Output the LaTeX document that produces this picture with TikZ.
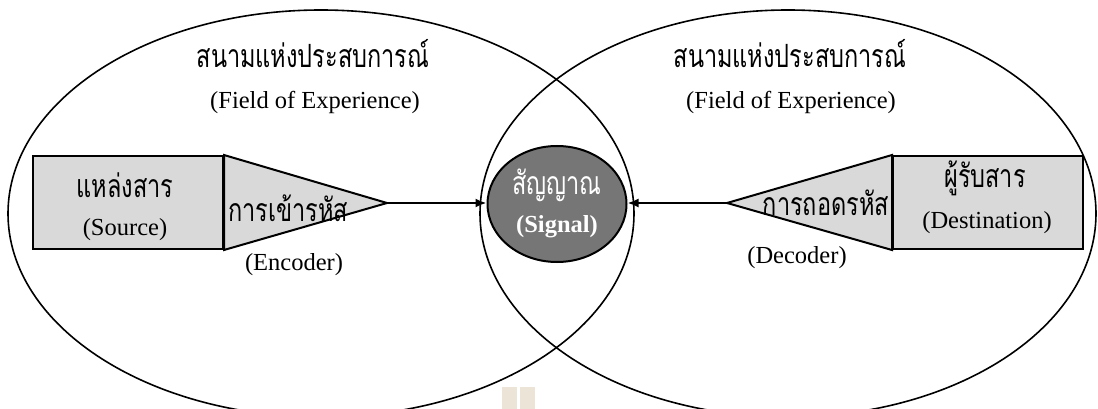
\documentclass[tikz,border=0pt]{standalone}
\usepackage{fontspec}
\setmainfont{Liberation Serif}
\newfontfamily\thaifont[Script=Thai,FakeStretch=0.735]{Loma}
\usetikzlibrary{arrows.meta,shapes.geometric}
\definecolor{boxgray}{HTML}{D9D9D9}
\definecolor{sigfill}{HTML}{767676}
\definecolor{markbeige}{HTML}{ECE4D6}

\begin{document}
\begin{tikzpicture}[x=1pt,y=-1pt,
  field/.style={draw=black,line width=1.6pt},
  box/.style={draw=black,line width=2pt,fill=boxgray,inner sep=0pt},
  th/.style={inner sep=0pt,font=\thaifont\fontsize{32}{34}\selectfont},
  en/.style={inner sep=0pt,font=\fontsize{24.5}{28}\selectfont},
  arr/.style={draw=black,line width=2pt,-{Latex[length=11pt,width=9pt]}},
  sigstyle/.style={ellipse,draw=black,line width=2pt,fill=sigfill,
    minimum width=139pt,minimum height=116pt,inner sep=0pt}]
\useasboundingbox (0,0) rectangle (1098,409);
\clip (0,0) rectangle (1098,409);

% fields of experience
\draw[field] (321,213.5) ellipse [x radius=313pt,y radius=203.5pt];
\draw[field] (788,213.5) ellipse [x radius=308pt,y radius=203.5pt];

% source and encoder
\coordinate (enctip) at (387,203);
\node[box,minimum width=190pt,minimum height=93pt,anchor=north west] (src) at (32,155) {};
\path[box] (src.north east) -- (enctip) -- (src.south east) -- cycle;
\node[box,minimum width=190pt,minimum height=93pt,anchor=north west] at (32,155) {};

% destination and decoder
\coordinate (dectip) at (727,203);
\node[box,minimum width=190pt,minimum height=93pt,anchor=north west] (dst) at (892,155) {};
\path[box] (dst.north west) -- (dectip) -- (dst.south west) -- cycle;
\node[box,minimum width=190pt,minimum height=93pt,anchor=north west] at (892,155) {};

% signal
\node[sigstyle] (sig) at (557,204) {};

% connectors
\draw[arr] (enctip) -- (enctip -| sig.west);
\draw[arr] (dectip) -- (dectip -| sig.east);

% labels
\node[th] (lfth) at (313,54) {สนามแห่งประสบการณ์};
\node[en] (lfen) at (315,102) {(Field of Experience)};
\node[th] (rfth) at (790,54) {สนามแห่งประสบการณ์};
\node[en] (rfen) at (791,102) {(Field of Experience)};

\node[th] (srcth) at (125,185) {แหล่งสาร};
\node[en] (srcen) at (125,230) {(Source)};
\node[th] (encth) at (288,208) {การเข้ารหัส};
\node[en] (encen) at (294,265) {(Encoder)};

\node[th,text=white] (sigth) at (557,185) {สัญญาณ};
\node[en,text=white,font=\bfseries\fontsize{24.5}{28}\selectfont] (sigen) at (557,227) {(Signal)};

\node[th] (decth) at (826,203) {การถอดรหัส};
\node[en] (decen) at (797,258) {(Decoder)};
\node[th] (dstth) at (985,178) {ผู้รับสาร};
\node[en] (dsten) at (987,223) {(Destination)};

% small marks at the bottom edge
\fill[markbeige] (502,387) rectangle (517,409);
\fill[markbeige] (520,387) rectangle (535,409);
\end{tikzpicture}
\end{document}
